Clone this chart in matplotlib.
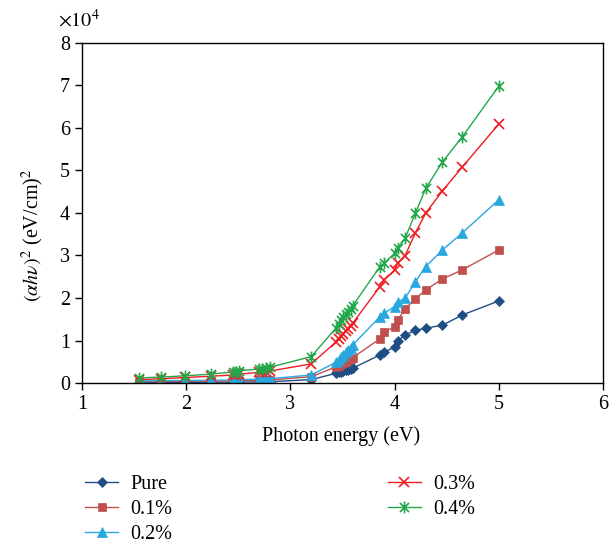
import matplotlib
matplotlib.use("Agg")
import matplotlib.pyplot as plt
from matplotlib.path import Path

energy = [1.55, 1.76, 1.99, 2.24, 2.45, 2.48, 2.51, 2.7, 2.73, 2.77, 2.8, 3.2,
          3.44, 3.47, 3.49, 3.51, 3.53, 3.55, 3.58, 3.6,
          3.86, 3.9, 4.0, 4.03, 4.1, 4.2, 4.3, 4.46, 4.65, 5.0]

pure = [0.01, 0.01, 0.015, 0.02, 0.02, 0.02, 0.025, 0.025, 0.03, 0.03, 0.03, 0.08,
        0.23, 0.25, 0.27, 0.29, 0.3, 0.31, 0.33, 0.35,
        0.66, 0.72, 0.85, 0.99, 1.13, 1.24, 1.29, 1.36, 1.6, 1.93]
p01 = [0.03, 0.035, 0.04, 0.045, 0.05, 0.05, 0.055, 0.06, 0.06, 0.065, 0.07, 0.15,
       0.38, 0.41, 0.44, 0.47, 0.5, 0.53, 0.56, 0.6,
       1.04, 1.2, 1.32, 1.48, 1.74, 1.98, 2.19, 2.45, 2.66, 3.13]
p02 = [0.05, 0.055, 0.06, 0.065, 0.07, 0.075, 0.08, 0.09, 0.095, 0.1, 0.1, 0.19,
       0.49, 0.55, 0.61, 0.67, 0.72, 0.77, 0.83, 0.9,
       1.56, 1.64, 1.8, 1.91, 1.99, 2.38, 2.74, 3.13, 3.53, 4.31]
p03 = [0.08, 0.1, 0.13, 0.16, 0.19, 0.2, 0.21, 0.25, 0.26, 0.27, 0.28, 0.45,
       0.97, 1.03, 1.1, 1.16, 1.22, 1.28, 1.35, 1.41,
       2.27, 2.42, 2.66, 2.82, 2.99, 3.53, 4.0, 4.52, 5.08, 6.09]
p04 = [0.12, 0.14, 0.17, 0.21, 0.26, 0.27, 0.29, 0.33, 0.34, 0.36, 0.37, 0.62,
       1.3, 1.4, 1.48, 1.55, 1.62, 1.68, 1.75, 1.82,
       2.74, 2.82, 3.05, 3.17, 3.4, 3.99, 4.58, 5.2, 5.79, 6.98]

labels = ["Pure", "0.1%", "0.2%", "0.3%", "0.4%"]
colors = ["#1F4E84", "#C0504D", "#29A8E0", "#EE1D23", "#22A84A"]

star = Path([(-1, -1), (1, 1), (-1, 1), (1, -1), (0, -1.3), (0, 1.3)],
            [Path.MOVETO, Path.LINETO, Path.MOVETO, Path.LINETO, Path.MOVETO, Path.LINETO])
markers = ["D", "s", "^", "x", star]
msizes = [5.5, 5.5, 7, 7, 8.5]

plt.rcParams["font.family"] = ["Liberation Serif", "DejaVu Serif"]
plt.rcParams["mathtext.fontset"] = "stix"
FS = 14.5

fig = plt.figure(figsize=(6.15, 5.45), dpi=100)
ax = fig.add_axes([0.1333, 0.2972, 0.847, 0.624])

series = [pure, p01, p02, p03, p04]
for vals, lab, c, m, ms in zip(series, labels, colors, markers, msizes):
    ax.plot(energy, vals, color=c, marker=m, markersize=ms, linewidth=1.0,
            markeredgewidth=1.2 if (m == "x" or m is star) else 0.5,
            markeredgecolor=c, label=lab)

ax.set_xlim(1, 6)
ax.set_ylim(0, 8)
ax.set_xticks([1, 2, 3, 4, 5, 6])
ax.set_yticks(range(0, 9))
ax.tick_params(direction="out", length=5, width=1, labelsize=FS, colors="black")
for s in ax.spines.values():
    s.set_linewidth(1.0)
ax.set_xlabel("Photon energy (eV)", fontsize=FS)
ax.xaxis.set_label_coords(0.497, -0.128)
ax.set_ylabel(r"$(\alpha h\nu)^2$ (eV/cm)$^2$", fontsize=FS, va="center")
ax.yaxis.set_label_coords(-0.094, 0.435)
fig.text(58 / 615, 1 - 27 / 545, r"$\times10^4$", fontsize=FS,
         ha="left", va="baseline")

leg = fig.legend(loc="upper left", bbox_to_anchor=(85 / 615, 1 - 475 / 545), ncol=2,
                 frameon=False, fontsize=FS, columnspacing=10.7, borderpad=0,
                 borderaxespad=0,
                 handlelength=1.65, labelspacing=0.3, handletextpad=0.6)

fig.savefig("out.png", dpi=100)
